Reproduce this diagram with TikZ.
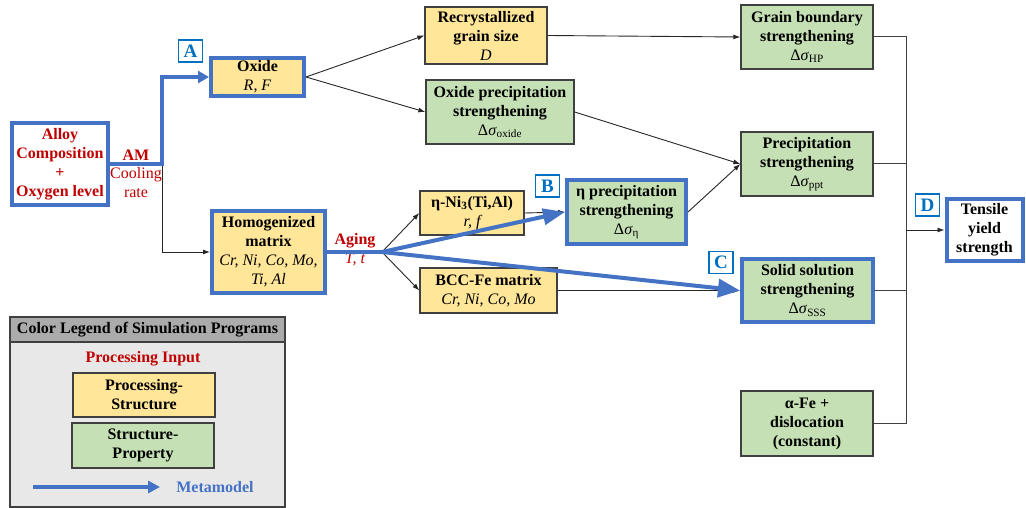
\documentclass[tikz,border=0pt]{standalone}
\usepackage{fontspec}
\setmainfont{Liberation Serif}
\usetikzlibrary{arrows.meta}
\definecolor{bl}{HTML}{4472C4}
\definecolor{lbl}{HTML}{0070C0}
\definecolor{rd}{HTML}{C00000}
\definecolor{yl}{HTML}{FFE699}
\definecolor{gr}{HTML}{C5E0B4}
\definecolor{bd}{HTML}{404040}
\newcommand\ilin[1]{{\mdseries\itshape #1}}
\newcommand\dsig[1]{{\mdseries\upshape Δ\textit{σ}\textsubscript{#1}}}
\begin{document}
\begin{tikzpicture}[x=1pt,y=-1pt,
 every node/.style={font=\fontsize{16}{19}\selectfont},
 box/.style={draw=bd, line width=1.3pt, align=center, font=\fontsize{16}{19}\selectfont\bfseries, inner sep=0pt},
 psbox/.style={box, fill=yl},
 spbox/.style={box, fill=gr},
 bluebox/.style={draw=bl, line width=4pt},
 tag/.style={draw=lbl, line width=1.5pt, fill=white, text=lbl, font=\fontsize{19}{19}\selectfont\bfseries, minimum width=24pt, minimum height=22pt, inner sep=0pt},
 thin/.style={draw=black!85, line width=0.9pt, -{Latex[length=7pt,width=5pt]}},
 plain/.style={draw=black!75, line width=1pt},
 meta/.style={draw=bl, line width=4pt},
 ]
\useasboundingbox (0,0) rectangle (1026,508);

% main boxes
\node[box, bluebox, fill=white, text=rd, minimum width=96pt, minimum height=82pt] (alloy) at (60,164) {Alloy\\Composition\\+\\Oxygen level};
\node[psbox, bluebox, minimum width=93pt, minimum height=38pt] (oxide) at (257.5,77) {Oxide\\\ilin{R, F}};
\node[psbox, bluebox, minimum width=113pt, minimum height=82pt] (homog) at (268.5,252) {Homogenized\\matrix\\\ilin{Cr, Ni, Co, Mo,}\\\ilin{Ti, Al}};
\node[psbox, minimum width=122pt, minimum height=57pt] (recryst) at (486,35.5) {Recrystallized\\grain size\\\ilin{D}};
\node[spbox, minimum width=148pt, minimum height=64pt] (oxprec) at (500,112) {Oxide precipitation\\strengthening\\\dsig{oxide}};
\node[psbox, minimum width=104pt, minimum height=44pt] (etaNi) at (472,213) {η-Ni\textsubscript{3}(Ti,Al)\\\ilin{r, f}};
\node[psbox, minimum width=137pt, minimum height=45pt] (bcc) at (488.5,290.5) {BCC-Fe matrix\\\ilin{Cr, Ni, Co, Mo}};
\node[spbox, bluebox, minimum width=119pt, minimum height=64pt] (etaprec) at (626.5,212) {η precipitation\\strengthening\\\dsig{η}};
\node[spbox, minimum width=132pt, minimum height=64pt] (gb) at (807,37) {Grain boundary\\strengthening\\\dsig{HP}};
\node[spbox, minimum width=132pt, minimum height=64pt] (prec) at (807,164) {Precipitation\\strengthening\\\dsig{ppt}};
\node[spbox, bluebox, minimum width=131pt, minimum height=63pt] (sss) at (807.5,290.5) {Solid solution\\strengthening\\\dsig{SSS}};
\node[spbox, minimum width=132pt, minimum height=65pt] (alpha) at (807,423.5) {α-Fe +\\dislocation\\(constant)};
\node[box, bluebox, fill=white, minimum width=76pt, minimum height=62pt] (tensile) at (984.5,230) {Tensile\\yield\\strength};

% process labels
\node[text=rd, font=\fontsize{16}{19}\selectfont\bfseries] (amlab) at (136,155) {AM};
\node[text=rd] (cool) at (136,175) {Cooling};
\node[text=rd] (rate) at (136,193) {rate};
\node[text=rd, font=\fontsize{16}{19}\selectfont\bfseries] (aging) at (355,241) {Aging};
\node[text=rd, font=\fontsize{16}{19}\selectfont\itshape] (Tt) at (355,259) {T, t};

% split points
\coordinate (am) at (162,164);
\coordinate (ag) at (382,252);
\coordinate (bx) at (906,0);

% thin connectors
\draw[thin] (am) |- (homog.west);
\draw[thin] (oxide.east) -- (recryst.west);
\draw[thin] (oxide.east) -- (oxprec.west);
\draw[thin] (ag) -- (etaNi.west);
\draw[thin] (ag) -- (bcc.west);
\draw[thin] (etaNi.east) -- (etaprec.west);
\draw[thin] (bcc.east) -- (sss.west);
\draw[thin] (recryst.east) -- (gb.west);
\draw[thin] (oxprec.east) -- (prec.west);
\draw[thin] (etaprec.east) -- (prec.west);
\draw[plain] (gb.east) -- (gb.east -| bx) -- (alpha.east -| bx) -- (alpha.east);
\draw[plain] (prec.east) -- (prec.east -| bx);
\draw[plain] (sss.east) -- (sss.east -| bx);
\draw[thin] (tensile.west -| bx) -- (tensile.west);

% metamodel arrows
\draw[meta, -{Triangle[length=11pt,width=12pt]}] (alloy.east) -- (am) |- (oxide.west);
\draw[meta] (homog.east) -- (ag);
\draw[meta, -{Triangle[length=22pt,width=16pt]}] (ag) -- (etaprec.west);
\draw[meta, -{Triangle[length=22pt,width=18pt]}] (ag) -- (sss.west);

% tags
\node[tag] (tA) at (190.5,51) {A};
\node[tag] (tB) at (547.5,186) {B};
\node[tag] (tC) at (721,262.5) {C};
\node[tag] (tD) at (927.5,205) {D};

% legend
\node[draw=bd, line width=1.3pt, fill=black!9, minimum width=275pt, minimum height=190pt, inner sep=0pt] (leg) at (147.5,412) {};
\node[draw=bd, line width=1.3pt, fill=black!33, minimum width=275pt, minimum height=25pt, inner sep=0pt, font=\fontsize{16}{19}\selectfont\bfseries] (legh) at (147.5,329.5) {Color Legend of Simulation Programs};
\node[text=rd, font=\fontsize{16}{19}\selectfont\bfseries] (pin) at (143,359) {Processing Input};
\node[psbox, minimum width=142pt, minimum height=44pt] (lps) at (144,395) {Processing-\\Structure};
\node[spbox, minimum width=142pt, minimum height=45pt] (lsp) at (143,445.5) {Structure-\\Property};
\coordinate (m1) at (33,487);
\coordinate (m2) at (160,487);
\draw[meta, -{Triangle[length=12pt,width=12pt]}] (m1) -- (m2);
\node[text=bl, font=\fontsize{16}{19}\selectfont\bfseries] (mtext) at (215,487) {Metamodel};
\end{tikzpicture}
\end{document}
